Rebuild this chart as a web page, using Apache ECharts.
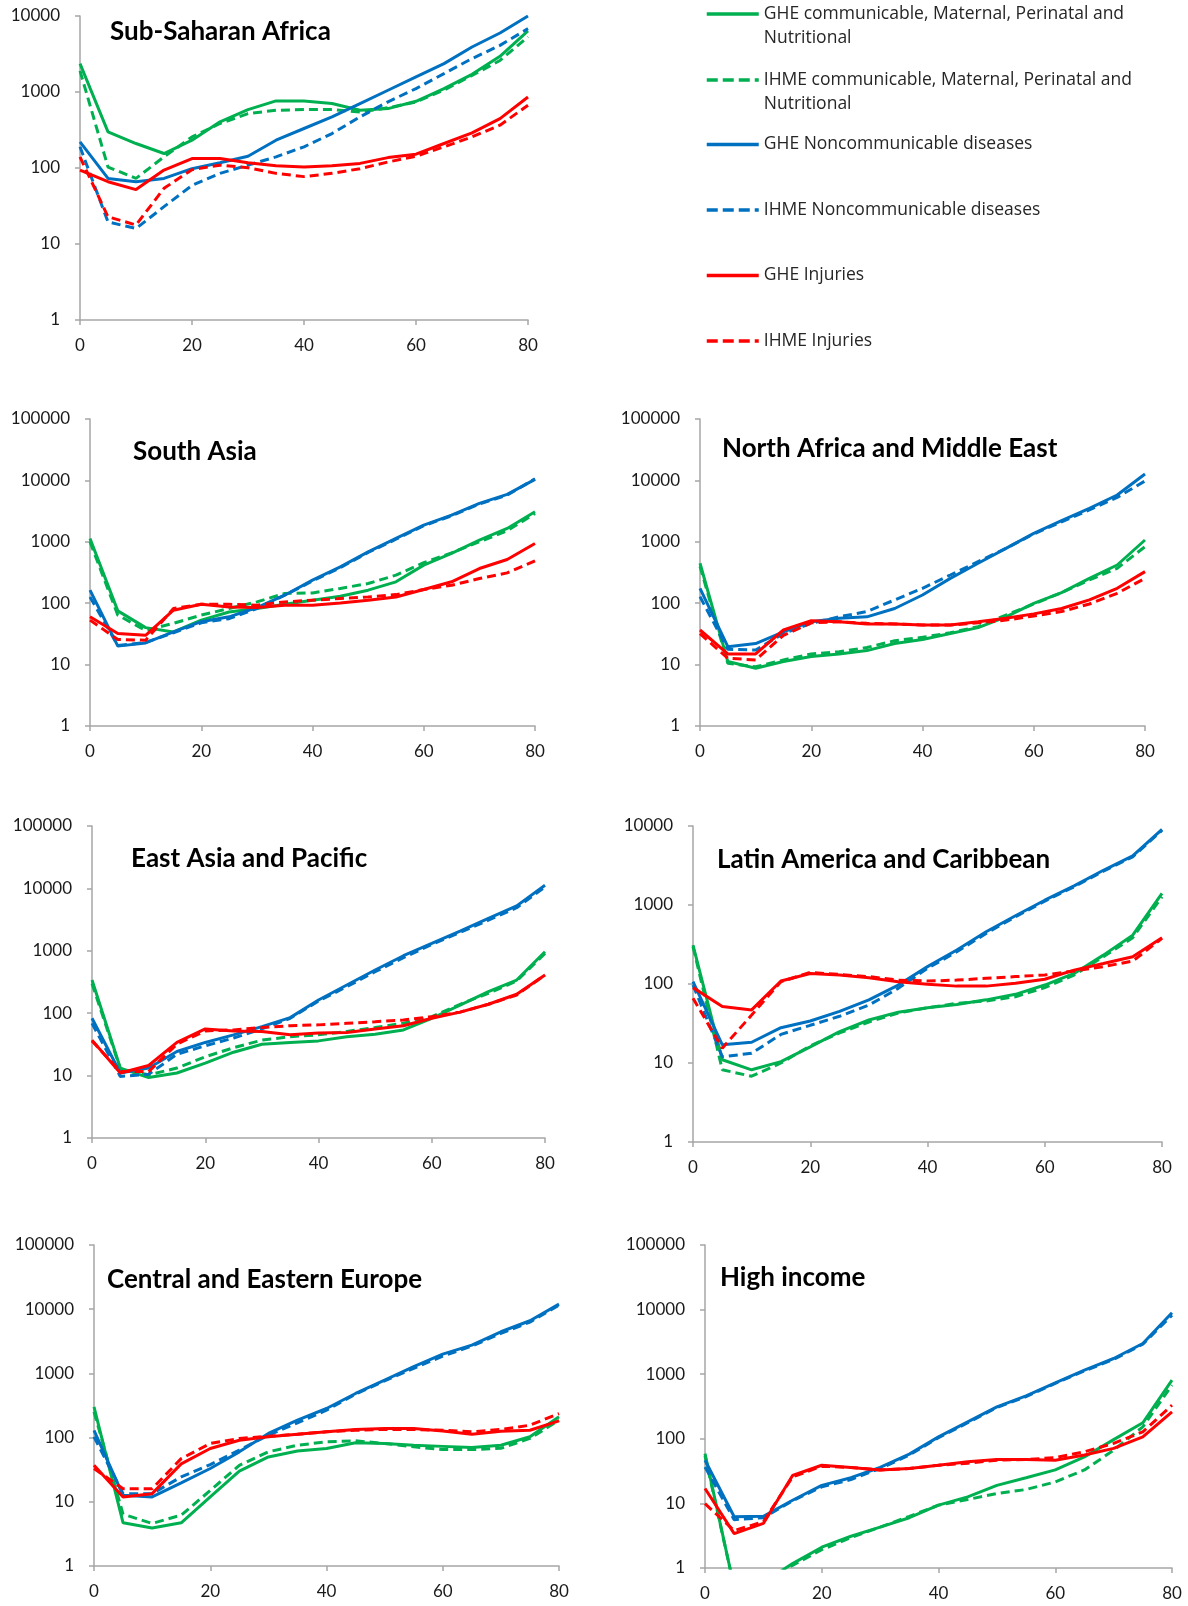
<!DOCTYPE html>
<html>
<head>
<meta charset="utf-8">
<script src="https://cdn.jsdelivr.net/npm/echarts@6/dist/echarts.min.js"></script>
<style>
  body { margin: 0; background: #fff; }
  #chart { width: 1188px; height: 1606px; }
</style>
</head>
<body>
<div id="chart"></div>
<script>
var ages = [0, 5, 10, 15, 20, 25, 30, 35, 40, 45, 50, 55, 60, 65, 70, 75, 80];
var xTicks = [0, 20, 40, 60, 80];

// Sub-Saharan Africa
var ssa_ghe_comm  = [2360, 299, 210, 155, 232, 405, 587, 764, 764, 705, 575, 605, 755, 1110, 1710, 2950, 6360];
var ssa_ihme_comm = [1900, 103, 73, 140, 257, 385, 520, 575, 587, 587, 547, 620, 740, 1060, 1650, 2600, 5300];
var ssa_ghe_ncd   = [221, 73, 66, 73, 98, 117, 143, 232, 331, 471, 705, 1055, 1578, 2360, 3910, 5980, 10000];
var ssa_ihme_ncd  = [190, 19.5, 16, 31, 59, 85, 109, 140, 190, 284, 471, 742, 1110, 1746, 2750, 4110, 6820];
var ssa_ghe_inj   = [94, 66, 52, 94, 133, 133, 117, 107, 103, 107, 115, 137, 152, 210, 290, 447, 860];
var ssa_ihme_inj  = [140, 22.8, 17.8, 54, 95, 109, 101, 85, 77, 85, 98, 120, 143, 190, 257, 366, 670];

// South Asia
var sa_ghe_comm  = [1130, 75, 40, 34, 53, 72, 82, 96, 112, 130, 163, 223, 417, 646, 1065, 1650, 3090];
var sa_ihme_comm = [1000, 64, 36, 47, 64, 82, 105, 144, 147, 174, 209, 286, 457, 661, 1000, 1514, 2900];
var sa_ghe_ncd   = [163, 20, 22.5, 34, 50, 60, 85, 135, 237, 391, 687, 1133, 1870, 2720, 4220, 5910, 10400];
var sa_ihme_ncd  = [126, 20.5, 23, 33, 48, 56, 82, 135, 230, 380, 670, 1100, 1830, 2650, 4120, 5750, 10600];
var sa_ghe_inj   = [60, 32, 30, 77, 96, 87, 85, 93, 93, 101, 112, 126, 167, 223, 367, 515, 940];
var sa_ihme_inj  = [53, 25.6, 25, 82, 96, 96, 93, 105, 112, 119, 126, 138, 167, 196, 252, 312, 490];

// North Africa and Middle East
var na_ghe_comm  = [447, 11.2, 8.7, 11.2, 13.5, 14.9, 16.9, 22, 25.7, 32, 40, 60, 99, 149, 254, 419, 1070];
var na_ihme_comm = [400, 10.5, 9.2, 11.9, 14.9, 16.2, 19, 24.5, 27.8, 33, 41.5, 64, 97, 149, 239, 370, 832];
var na_ghe_ncd   = [175, 19.6, 22, 34, 50, 57, 60, 82, 136, 254, 447, 783, 1374, 2210, 3510, 5780, 12700];
var na_ihme_ncd  = [128, 17.7, 17.3, 32, 47, 60, 73, 113, 175, 288, 475, 783, 1340, 2120, 3300, 5290, 9800];
var na_ghe_inj   = [36.6, 14.9, 14.9, 36.6, 52, 50, 46, 46, 44, 44, 50, 57, 67, 82, 113, 175, 327];
var na_ihme_inj  = [32, 12.7, 11.9, 30, 48, 50, 47, 46, 44, 44, 48, 53, 62, 73, 97, 145, 254];

// East Asia and Pacific
var ea_ghe_comm  = [340, 13.2, 9.3, 11, 15.8, 23.7, 31.8, 33.9, 36, 42, 46, 54, 83, 135, 221, 340, 966];
var ea_ihme_comm = [300, 12.8, 10.3, 13.2, 20, 28, 37, 42, 45, 51, 59, 69, 88, 139, 208, 328, 908];
var ea_ghe_ncd   = [83, 11, 13.2, 24.3, 34, 45, 61, 85, 163, 283, 492, 834, 1313, 2070, 3300, 5250, 11250];
var ea_ihme_ncd  = [69, 9.7, 10.5, 22, 30, 40, 56, 83, 157, 266, 462, 774, 1265, 1970, 3100, 4900, 10580];
var ea_ghe_inj   = [37, 11, 14.5, 34, 56, 52, 51, 45, 48, 49, 56, 63, 83, 104, 139, 201, 409];
var ea_ihme_inj  = [36, 11.6, 11.6, 32, 52, 54, 59, 63, 65, 69, 73, 78, 88, 104, 139, 196, 409];

// Latin America and Caribbean
var la_ghe_comm  = [311, 11, 8.2, 10.4, 16, 25, 35, 44, 50, 55, 63, 74, 97, 136, 232, 415, 1400];
var la_ihme_comm = [297, 8.2, 6.8, 10, 16.5, 24, 33, 43, 50, 57, 61, 69, 90, 130, 221, 385, 1270];
var la_ghe_ncd   = [107, 17, 18.3, 28, 34, 45, 63, 97, 166, 269, 459, 730, 1150, 1750, 2750, 4180, 9070];
var la_ihme_ncd  = [97, 12, 13.3, 23, 30, 39, 54, 88, 158, 256, 437, 710, 1120, 1700, 2680, 4070, 8800];
var la_ghe_inj   = [90, 52, 47, 109, 136, 130, 120, 107, 99, 94, 94, 102, 115, 150, 182, 221, 385];
var la_ihme_inj  = [66, 15.4, 40.5, 107, 140, 132, 124, 112, 109, 112, 118, 124, 130, 146, 166, 195, 378];

// Central and Eastern Europe
var ce_ghe_comm  = [301, 4.7, 3.9, 4.7, 11.9, 30, 50, 62, 67.6, 83, 81, 76, 73, 70, 76, 103, 211];
var ce_ihme_comm = [252, 6.4, 4.6, 6.2, 15, 37, 60, 76, 86, 89, 81, 72, 65, 65, 68, 97, 187];
var ce_ghe_ncd   = [130, 12.6, 11.9, 19.7, 33, 60, 116, 187, 284, 487, 785, 1270, 2000, 2760, 4450, 6610, 12000];
var ce_ihme_ncd  = [103, 13.4, 13.4, 24.4, 38, 64, 109, 170, 267, 475, 767, 1195, 1860, 2660, 4200, 6300, 11600];
var ce_ghe_inj   = [37, 11.9, 13.4, 39, 67.6, 91, 103, 113, 123, 134, 138, 138, 127, 113, 126, 130, 182];
var ce_ihme_inj  = [33, 16, 16, 47, 81, 97, 105, 113, 123, 130, 134, 134, 130, 123, 134, 156, 237];

// High income
var hi_ghe_comm  = [59, 0.5, 0.6, 1.17, 2.1, 3.1, 4.3, 6.0, 9.4, 12.6, 19, 25, 33, 52.5, 97, 177, 810];
var hi_ihme_comm = [55, 0.5, 0.6, 1.1, 1.92, 2.95, 4.3, 6.3, 9.4, 11.5, 14.2, 16.4, 21.5, 33, 66.5, 153, 676];
var hi_ghe_ncd   = [46.6, 6.2, 6.3, 11.2, 19, 25, 36, 58, 107, 183, 312, 463, 736, 1157, 1750, 2990, 8940];
var hi_ihme_ncd  = [36.7, 5.6, 6.0, 11, 18, 23.4, 34.7, 56, 104, 177, 305, 450, 720, 1130, 1690, 2920, 8200];
var hi_ghe_inj   = [17, 3.4, 4.9, 27, 39, 36, 33, 34.7, 39, 44, 47.8, 47.8, 46.6, 56, 71, 107, 261];
var hi_ihme_inj  = [9.9, 3.8, 5.2, 25.7, 37.6, 36, 33, 34.7, 39, 42, 46.6, 47.8, 51, 63, 85, 128, 331];

var seriesNames = [
    'GHE communicable, Maternal, Perinatal and\nNutritional',
    'IHME communicable, Maternal, Perinatal and\nNutritional',
    'GHE Noncommunicable diseases',
    'IHME Noncommunicable diseases',
    'GHE Injuries',
    'IHME Injuries'
];
var seriesColors = ['#00b050', '#00b050', '#0070c0', '#0070c0', '#ff0000', '#ff0000'];
var seriesDashed = [false, true, false, true, false, true];

var panels = [
    { title: 'Sub-Saharan Africa', yMax: 10000, grid: { left: 80, top: 16, width: 448, height: 304 }, tx: 110, ty: 19,
      data: [ssa_ghe_comm, ssa_ihme_comm, ssa_ghe_ncd, ssa_ihme_ncd, ssa_ghe_inj, ssa_ihme_inj] },
    { title: 'South Asia', yMax: 100000, grid: { left: 90, top: 419, width: 445, height: 307 }, tx: 133, ty: 439,
      data: [sa_ghe_comm, sa_ihme_comm, sa_ghe_ncd, sa_ihme_ncd, sa_ghe_inj, sa_ihme_inj] },
    { title: 'North Africa and Middle East', yMax: 100000, grid: { left: 700, top: 419, width: 445, height: 307 }, tx: 722, ty: 436,
      data: [na_ghe_comm, na_ihme_comm, na_ghe_ncd, na_ihme_ncd, na_ghe_inj, na_ihme_inj] },
    { title: 'East Asia and Pacific', yMax: 100000, grid: { left: 92, top: 826, width: 453, height: 312 }, tx: 131, ty: 846,
      data: [ea_ghe_comm, ea_ihme_comm, ea_ghe_ncd, ea_ihme_ncd, ea_ghe_inj, ea_ihme_inj] },
    { title: 'Latin America and Caribbean', yMax: 10000, grid: { left: 693, top: 826, width: 469, height: 316 }, tx: 717, ty: 847,
      data: [la_ghe_comm, la_ihme_comm, la_ghe_ncd, la_ihme_ncd, la_ghe_inj, la_ihme_inj] },
    { title: 'Central and Eastern Europe', yMax: 100000, grid: { left: 94, top: 1245, width: 465, height: 321 }, tx: 107, ty: 1267,
      data: [ce_ghe_comm, ce_ihme_comm, ce_ghe_ncd, ce_ihme_ncd, ce_ghe_inj, ce_ihme_inj] },
    { title: 'High income', yMax: 100000, grid: { left: 705, top: 1245, width: 467, height: 323 }, tx: 720, ty: 1265,
      data: [hi_ghe_comm, hi_ihme_comm, hi_ghe_ncd, hi_ihme_ncd, hi_ghe_inj, hi_ihme_inj] }
];

var fontFam = 'Lato, "Open Sans", sans-serif';
var axisGray = '#a6a6a6';

var grids = [], xAxes = [], yAxes = [], titles = [], series = [];
panels.forEach(function (p, i) {
    grids.push(p.grid);
    titles.push({
        text: p.title, left: p.tx, top: p.ty, padding: 0,
        textStyle: { fontFamily: fontFam, fontSize: 26, fontWeight: 'bold', color: '#000' }
    });
    xAxes.push({
        type: 'value', gridIndex: i, min: 0, max: 80, interval: 20,
        axisLine: { lineStyle: { color: axisGray, width: 1.5 } },
        axisTick: { show: true, length: 5, lineStyle: { color: axisGray, width: 1.5 } },
        axisLabel: { fontFamily: fontFam, fontSize: 17, color: '#1a1a1a', margin: 17 },
        splitLine: { show: false }
    });
    yAxes.push({
        type: 'log', logBase: 10, gridIndex: i, min: 1, max: p.yMax,
        axisLine: { show: true, lineStyle: { color: axisGray, width: 1.5 } },
        axisTick: { show: true, length: 5, lineStyle: { color: axisGray, width: 1.5 } },
        axisLabel: {
            fontFamily: fontFam, fontSize: 17, color: '#1a1a1a', margin: 20,
            formatter: function (v) { return String(Math.round(v)); }
        },
        splitLine: { show: false }
    });
    p.data.forEach(function (arr, k) {
        series.push({
            name: seriesNames[k],
            type: 'line',
            xAxisIndex: i, yAxisIndex: i,
            symbol: 'none',
            clip: true,
            data: ages.map(function (a, j) { return [a, arr[j]]; }),
            lineStyle: { color: seriesColors[k], width: 3, type: seriesDashed[k] ? [9, 5] : 'solid' },
            itemStyle: { color: seriesColors[k] },
            z: 2 + k
        });
    });
});

// legend: one block per entry so the spacing matches the original
// two-line names get a blank first line so that their first line sits on the icon
var legendTops = [-22, 44, 132.5, 198, 263.5, 329];
var legends = seriesNames.map(function (n, k) {
    var twoLines = n.indexOf('\n') >= 0;
    return {
        data: [n], left: 705, top: legendTops[k], padding: 0,
        orient: 'vertical', itemWidth: 52, itemHeight: 14, itemGap: 0,
        selectedMode: false,
        itemStyle: { opacity: 0 },
        lineStyle: { width: 3.5, type: seriesDashed[k] ? [11, 5] : 'solid' },
        formatter: function (name) { return twoLines ? '\u00a0\n' + name : name; },
        textStyle: { fontFamily: '"Open Sans", sans-serif', fontSize: 17.5, color: '#262626', lineHeight: 24 }
    };
});

var myChart = echarts.init(document.getElementById('chart'));
var option = {
    animation: false,
    backgroundColor: '#fff',
    title: titles,
    legend: legends,
    grid: grids,
    xAxis: xAxes,
    yAxis: yAxes,
    series: series
};
myChart.setOption(option);
</script>
</body>
</html>
